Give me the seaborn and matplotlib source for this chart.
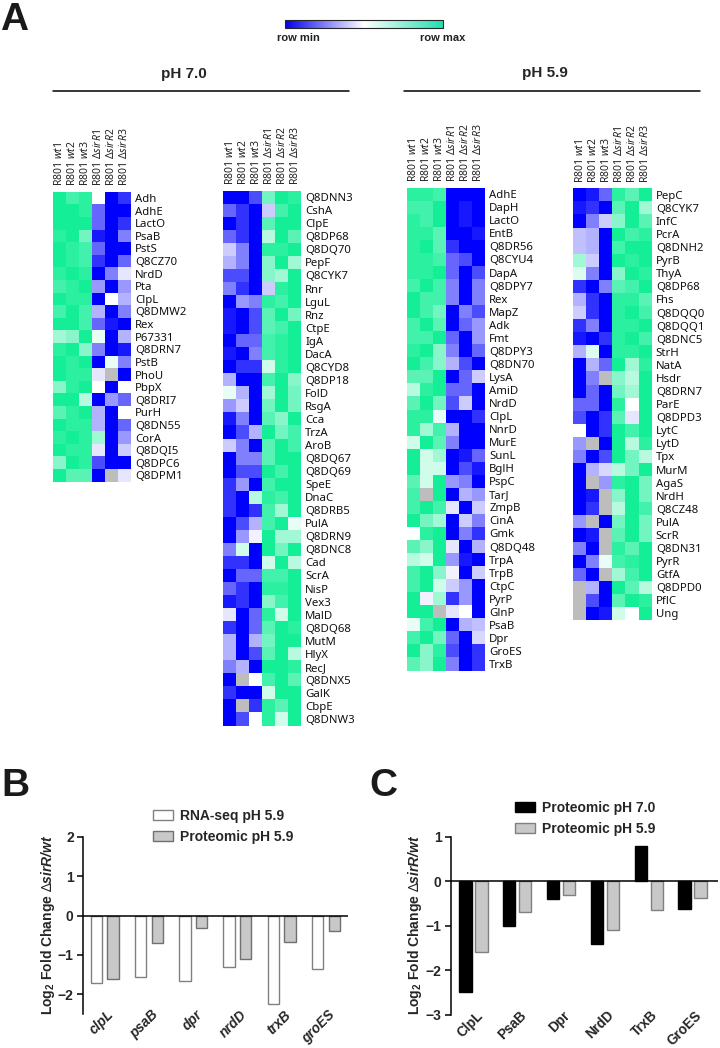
"""
plot.py
Heatmaps of row-scaled protein levels (pH 7.0 / pH 5.9) and fold change bar charts.
"""

# ----------------------------- #
# Import Libraries
# ----------------------------- #
import matplotlib
matplotlib.use('Agg')
import matplotlib.pyplot as plt
from matplotlib.cm import ScalarMappable
from matplotlib.colors import LinearSegmentedColormap
from matplotlib.transforms import ScaledTranslation
import pandas as pd
import seaborn as sns

# ----------------------------- #
# Data
# ----------------------------- #
na = float('nan')  # grey cells

samples = ['R801 $\\mathit{wt}$1', 'R801 $\\mathit{wt}$2', 'R801 $\\mathit{wt}$3',
           'R801 $\\Delta\\mathit{sirR}$1', 'R801 $\\Delta\\mathit{sirR}$2', 'R801 $\\Delta\\mathit{sirR}$3']

genes_70a = ['Adh', 'AdhE', 'LactO', 'PsaB', 'PstS', 'Q8CZ70', 'NrdD', 'Pta', 'ClpL', 'Q8DMW2', 'Rex', 'P67331',
             'Q8DRN7', 'PstB', 'PhoU', 'PbpX', 'Q8DRI7', 'PurH', 'Q8DN55', 'CorA', 'Q8DQI5', 'Q8DPC6', 'Q8DPM1']
values_70a = [
    [10, 8, 9, 0, -10, -8], [10, 10, 9, -6, -10, -10], [10, 10, 10, -6, -10, -8], [9, 10, 6, -9, -10, -5],
    [10, 9, 8, -6, -10, -10], [10, 9, 8, -8, -10, -6], [9, 10, 9, -10, -5, -1], [8, 9, 10, -4, -10, -4],
    [10, 9, 9, -10, 0, -3], [8, 10, 8, -3, -10, -5], [10, 10, 8, -6, -9, -10], [4, 5, 10, 1, -10, -3],
    [9, 10, 5, -5, -10, -9], [10, 9, 10, -10, 1, -5], [10, 9, 9, -1, na, -10], [5, 9, 10, 0, -10, 0],
    [10, 10, 3, -10, -4, -6], [7, 9, 10, -3, -10, 0], [10, 9, 9, -3, -10, -6], [9, 10, 9, 4, -10, -4],
    [10, 9, 9, -1, -10, -2], [5, 10, 9, -7, -10, -10], [10, 7, 7, -10, na, -1],
]

genes_70b = ['Q8DNN3', 'CshA', 'ClpE', 'Q8DP68', 'Q8DQ70', 'PepF', 'Q8CYK7', 'Rnr', 'LguL', 'Rnz', 'CtpE', 'IgA',
             'DacA', 'Q8CYD8', 'Q8DP18', 'FolD', 'RsgA', 'Cca', 'TrzA', 'AroB', 'Q8DQ67', 'Q8DQ69', 'SpeE', 'DnaC',
             'Q8DRB5', 'PulA', 'Q8DRN9', 'Q8DNC8', 'Cad', 'ScrA', 'NisP', 'Vex3', 'MalD', 'Q8DQ68', 'MutM', 'HlyX',
             'RecJ', 'Q8DNX5', 'GalK', 'CbpE', 'Q8DNW3']
values_70b = [
    [-10, -10, -7, 6, 10, 9], [-6, -8, -10, -2, 8, 10], [-10, -8, -10, 7, 10, 10], [-6, -8, -10, 3, 10, 7],
    [-2, -5, -10, 9, 9, 10], [-3, -5, -10, 5, 10, 4], [-7, -7, -10, 5, 4, 10], [-5, -8, -10, -2, 9, 10],
    [-10, -4, -5, 9, 8, 10], [-9, -10, -7, 7, 10, 6], [-9, -10, -7, 7, 8, 10], [-10, -6, -6, 8, 9, 10],
    [-9, -10, -5, 8, 9, 10], [-10, -8, -8, 2, 9, 10], [-3, -10, -10, 8, 10, 5], [1, -3, -10, 4, 10, 6],
    [-4, -2, -10, 6, 10, 6], [-9, -5, -10, 7, 5, 10], [-10, -7, -3, 10, 6, 8], [-2, -5, -10, 7, 10, 8],
    [-10, -5, -5, 7, 10, 10], [-10, -7, -7, 10, 8, 10], [-8, -4, -10, 8, 10, 10], [-8, -10, 3, 9, 8, 10],
    [-8, -10, -8, 8, 4, 10], [-10, -7, -3, 8, 10, 1], [-10, -4, -0.5, 10, 4, 4], [-5, 2, -10, 10, 6, 10],
    [-8, -8, -10, 2, 10, 3], [-10, -6, -6, 8, 8, 10], [-6, -8, -10, 9, 9, 10], [-9, -8, -10, 5, 8, 10],
    [-1, -10, -6, 9, 2, 10], [-8, -10, -6, 7, 10, 9], [-3, -10, -3, 6, 10, 10], [-3, -10, -7, 7, 10, 3],
    [-5, -3, -10, 10, 10, 9], [-10, na, 0, 8, 10, 7], [-8, -10, -10, 2, 10, 10], [-10, na, -8, 9, 7, 10],
    [-10, -7, 0, 9, 2, 10],
]

genes_59a = ['AdhE', 'DapH', 'LactO', 'EntB', 'Q8DR56', 'Q8CYU4', 'DapA', 'Q8DPY7', 'Rex', 'MapZ', 'Adk', 'Fmt',
             'Q8DPY3', 'Q8DN70', 'LysA', 'AmiD', 'NrdD', 'ClpL', 'NnrD', 'MurE', 'SunL', 'BglH', 'PspC', 'TarJ',
             'ZmpB', 'CinA', 'Gmk', 'Q8DQ48', 'TrpA', 'TrpB', 'CtpC', 'PyrP', 'GlnP', 'PsaB', 'Dpr', 'GroES', 'TrxB']
values_59a = [
    [9, 9, 8, -10, -10, -10], [8, 8, 10, -10, -9, -10], [9, 8, 10, -10, -9, -10], [9, 9, 7, -10, -10, -9],
    [9, 10, 7, -8, -10, -10], [9, 9, 8, -6, -7, -10], [9, 9, 10, -6, -10, -7], [8, 10, 8, -5, -10, -5],
    [10, 8, 8, -5, -10, -5], [10, 8, 6, -10, -5, -7], [8, 10, 7, -10, -6, -4], [8, 8, 10, -6, -10, -4],
    [9, 10, 5, -5, -10, -6], [10, 8, 5, -3, -7, -10], [7, 7, 10, -10, -6, -2], [3, 9, 10, -6, -6, -10],
    [7, 10, 6, -7, -2, -10], [9, 9, 1, -10, -10, -8], [9, 4, 8, -3, -10, -10], [2, 10, 7, -5, -10, -10],
    [10, 2, 4, -10, -9, -6], [10, 2, 2, -10, -7, -9], [7, 2, 10, -4, -5, -10], [8, na, 10, -10, -3, -4],
    [8, 10, 8, -1, -10, -2], [10, 6, 4, -10, -2, -5], [0, 9, 10, -10, -5, -8], [7, 5, 10, -1, -10, -3],
    [3, 2, 10, -4, -9, -10], [8, 10, 5, -0.5, -10, -2], [8, 10, 2, -2, -4, -10], [10, -0.5, 4, -8, -4, -10],
    [10, 10, na, -1, 0, -10], [1, 8, 10, -10, -3, -2.5], [8, 10, 6, -6, -10, -1.5], [10, 5, 9, -7, -10, -8],
    [7, 5, 10, -5, -10, -8],
]

genes_59b = ['PepC', 'Q8CYK7', 'InfC', 'PcrA', 'Q8DNH2', 'PyrB', 'ThyA', 'Q8DP68', 'Fhs', 'Q8DQQ0', 'Q8DQQ1',
             'Q8DNC5', 'StrH', 'NatA', 'Hsdr', 'Q8DRN7', 'ParE', 'Q8DPD3', 'LytC', 'LytD', 'Tpx', 'MurM', 'AgaS',
             'NrdH', 'Q8CZ48', 'PulA', 'ScrR', 'Q8DN31', 'PyrR', 'GtfA', 'Q8DPD0', 'PflC', 'Ung']
values_59b = [
    [-10, -9, -6, 9, 7, 10], [-9, -8, -10, 7, 10, 4], [-10, -5, -2, 5, 10, 7], [-2.5, -3, -10, 10, 8, 9],
    [-2.5, -3, -10, 8, 10, 10], [4, -2, -10, 10, 9, 10], [1.5, -5, -10, 5, 10, 9], [-8, -10, -5, 7, 8, 10],
    [-3, -8, -10, 9, 9, 7], [-2, -8, -10, 9, 10, 8], [-8, -5, -10, 9, 9, 10], [-9, -10, -8, 9, 10, 8],
    [-3, 1.5, -10, 9, 9, 10], [-10, -3, -6, 10, 4, 9], [-10, -5, na, 5, 3, 10], [-10, -6, -10, 6, 4, 10],
    [-6, -6, -10, 9, 0, 10], [-7, -10, -8, 7, -1, 10], [0, -10, -8, 10, 8, 10], [-4, na, -10, 10, 3, 9],
    [-5, -10, -7, 10, 6, 3], [-10, -3, -1.5, 3, 6, 10], [-10, na, -4, 9, 10, 6], [-10, -9, na, 5, 10, 6],
    [-10, -8, na, 3, 10, 8], [-4, na, -10, 6, 10, 6], [-10, -9, na, 7, 10, 6], [-5, -10, na, 9, 7, 10],
    [-10, -5, 1, 8, 9, 10], [-6, -10, na, 4, 8, 10], [na, -3, -10, 10, 7, 3], [na, -7, -10, 7, 10, 9],
    [na, -10, -9, 2, 0, 10],
]

genes_b = ['clpL', 'psaB', 'dpr', 'nrdD', 'trxB', 'groES']
rna_59_b = [-1.72, -1.55, -1.66, -1.30, -2.24, -1.36]
prot_59_b = [-1.61, -0.71, -0.32, -1.10, -0.66, -0.40]

genes_c = ['ClpL', 'PsaB', 'Dpr', 'NrdD', 'TrxB', 'GroES']
prot_70_c = [-2.5, -1.0, -0.4, -1.4, 0.8, -0.63]
prot_59_c = [-1.6, -0.7, -0.3, -1.1, -0.65, -0.38]

# ----------------------------- #
# Figure Setup
# ----------------------------- #
sns.set_theme(style='white')
plt.rcParams['font.family'] = ['Liberation Sans', 'DejaVu Sans']
plt.rcParams['mathtext.fontset'] = 'custom'
plt.rcParams['mathtext.rm'] = 'Noto Sans'
plt.rcParams['mathtext.it'] = 'Noto Sans:italic'
plt.rcParams['mathtext.bf'] = 'Liberation Sans:bold'
plt.rcParams['mathtext.bfit'] = 'Liberation Sans:italic:bold'

W, H = 720, 1048
fig = plt.figure(figsize=(W / 100, H / 100), dpi=100)


def axes_px(x0, y0, x1, y1):
    # pixel box, y measured from the top
    return fig.add_axes([x0 / W, 1 - y1 / H, (x1 - x0) / W, (y1 - y0) / H])


def text_px(x, y, s, **kw):
    fig.text(x / W, 1 - y / H, s, **kw)


def line_px(x0, x1, y):
    fig.add_artist(plt.Line2D([x0 / W, x1 / W], [1 - y / H, 1 - y / H], color='black', lw=1.1))


# ----------------------------- #
# Panel A Heatmaps
# ----------------------------- #
heat_cmap = LinearSegmentedColormap.from_list('row', ['#0000ff', '#ffffff', '#14ee96'])


def draw_heatmap(box, genes, values):
    ax = axes_px(*box)
    table = pd.DataFrame(values, index=genes, columns=samples)
    sns.heatmap(table, ax=ax, cmap=heat_cmap, vmin=-10, vmax=10, cbar=False, xticklabels=True, yticklabels=True)
    ax.set_facecolor('#bdbdbd')
    ax.xaxis.tick_top()
    ax.yaxis.tick_right()
    ax.tick_params(length=0, pad=3)
    ax.tick_params(axis='x', pad=4)
    ax.set_xticklabels(samples, rotation=90, fontsize=7.5, family='Noto Sans', color='#222222')
    ax.set_yticklabels(genes, rotation=0, fontsize=8.2, family='Noto Sans', color='#111111')
    return ax


draw_heatmap((52.7, 191.7, 130.7, 481.7), genes_70a, values_70a)
draw_heatmap((223.3, 190.7, 301, 725.5), genes_70b, values_70b)
draw_heatmap((406.7, 187.7, 485, 670.5), genes_59a, values_59a)
draw_heatmap((573, 188.3, 651.7, 620), genes_59b, values_59b)

# colour key
bar_cmap = LinearSegmentedColormap.from_list('key', ['#0000f0', '#ffffff', '#20e0b0'])
cax = axes_px(285, 20, 443, 28)
key = fig.colorbar(ScalarMappable(cmap=bar_cmap), cax=cax, orientation='horizontal')
key.set_ticks([])
key.outline.set_linewidth(0.8)
text_px(298, 38, 'row min', ha='center', va='center', fontsize=8, fontweight='bold', color='#222222')
text_px(443, 38, 'row max', ha='center', va='center', fontsize=8, fontweight='bold', color='#222222')

text_px(184, 74, 'pH 7.0', ha='center', va='center', fontsize=11, fontweight='bold')
text_px(544.5, 73, 'pH 5.9', ha='center', va='center', fontsize=11, fontweight='bold')
line_px(52.5, 349, 90.7)
line_px(404, 700, 90.7)


# ----------------------------- #
# Panels B and C Bars
# ----------------------------- #
def draw_bars(box, genes, first, second, names, colors, edges, ylim, yticks, xlim, width, gap,
              italic, legend_at, label_x):
    ax = axes_px(*box)
    table = pd.DataFrame({'gene': genes, names[0]: first, names[1]: second})
    long_table = pd.melt(table, id_vars=['gene'], var_name='series', value_name='value')
    sns.barplot(data=long_table, x='gene', y='value', hue='series', palette=colors, width=width, gap=gap,
                saturation=1, linewidth=1.0, legend=False, ax=ax)
    for bars, edge in zip(ax.containers, edges):
        for bar in bars:
            bar.set_edgecolor(edge)
    ax.set_xlim(*xlim)
    ax.set_ylim(*ylim)
    ax.set_yticks(yticks)
    ax.axhline(0, color='black', lw=1.1, zorder=5)
    sns.despine(ax=ax, bottom=True)
    ax.spines['left'].set_linewidth(1.1)
    ax.spines['left'].set_color('black')
    ax.tick_params(axis='y', left=True, length=4.5, width=1.1, pad=2, labelsize=10, color='black')
    ax.tick_params(axis='x', bottom=False, pad=3)
    ax.set_xticks(range(len(genes)))
    ax.set_xticklabels(genes, rotation=45, ha='right', va='center', rotation_mode='anchor', fontsize=9.8,
                       fontweight='bold', fontstyle='italic' if italic else 'normal')
    # labels end a little right of the group centre and just under the axis
    shift = ScaledTranslation(7 / 100, 14 / 100, fig.dpi_scale_trans)
    for tick in ax.get_xticklabels():
        tick.set_transform(tick.get_transform() + shift)
    for tick in ax.get_yticklabels():
        tick.set_fontweight('bold')
    ax.set_xlabel('')
    ax.set_ylabel('')
    text_px(label_x, (box[1] + box[3]) / 2 - 1, 'Log$_{\\mathbf{2}}$ Fold Change $\\Delta\\mathbfit{sirR/wt}$',
            rotation=90, ha='center', va='center', fontsize=10, fontweight='bold')
    ax.legend(ax.containers, names, frameon=False, loc='upper left',
              bbox_to_anchor=(legend_at[0] / W, 1 - legend_at[1] / H), bbox_transform=fig.transFigure,
              prop={'weight': 'bold', 'size': 10}, handlelength=1.45, handleheight=0.72,
              handletextpad=0.5, labelspacing=0.48, borderpad=0, borderaxespad=0)
    return ax


draw_bars((82.7, 836.7, 348, 1014), genes_b, rna_59_b, prot_59_b, ['RNA-seq pH 5.9', 'Proteomic pH 5.9'],
          ['#ffffff', '#c8c8c8'], ['#808080', '#707070'], (-2.5, 2), [-2, -1, 0, 1, 2], (-0.5, 5.5),
          0.754, 0.32, True, (153, 809), 48)
draw_bars((450.7, 836.7, 718.3, 1014.7), genes_c, prot_70_c, prot_59_c, ['Proteomic pH 7.0', 'Proteomic pH 5.9'],
          ['#000000', '#c8c8c8'], ['#000000', '#808080'], (-3, 1), [-3, -2, -1, 0, 1], (-0.52, 5.59),
          0.73, 0.23, False, (515, 801), 415)

# ----------------------------- #
# Panel Letters
# ----------------------------- #
text_px(0, 20, 'A', ha='left', va='center', fontsize=28, fontweight='bold', color='#1a1a1a')
text_px(1, 786, 'B', ha='left', va='center', fontsize=28, fontweight='bold', color='#1a1a1a')
text_px(369, 786, 'C', ha='left', va='center', fontsize=28, fontweight='bold', color='#1a1a1a')

fig.savefig('out.png', dpi=100)
